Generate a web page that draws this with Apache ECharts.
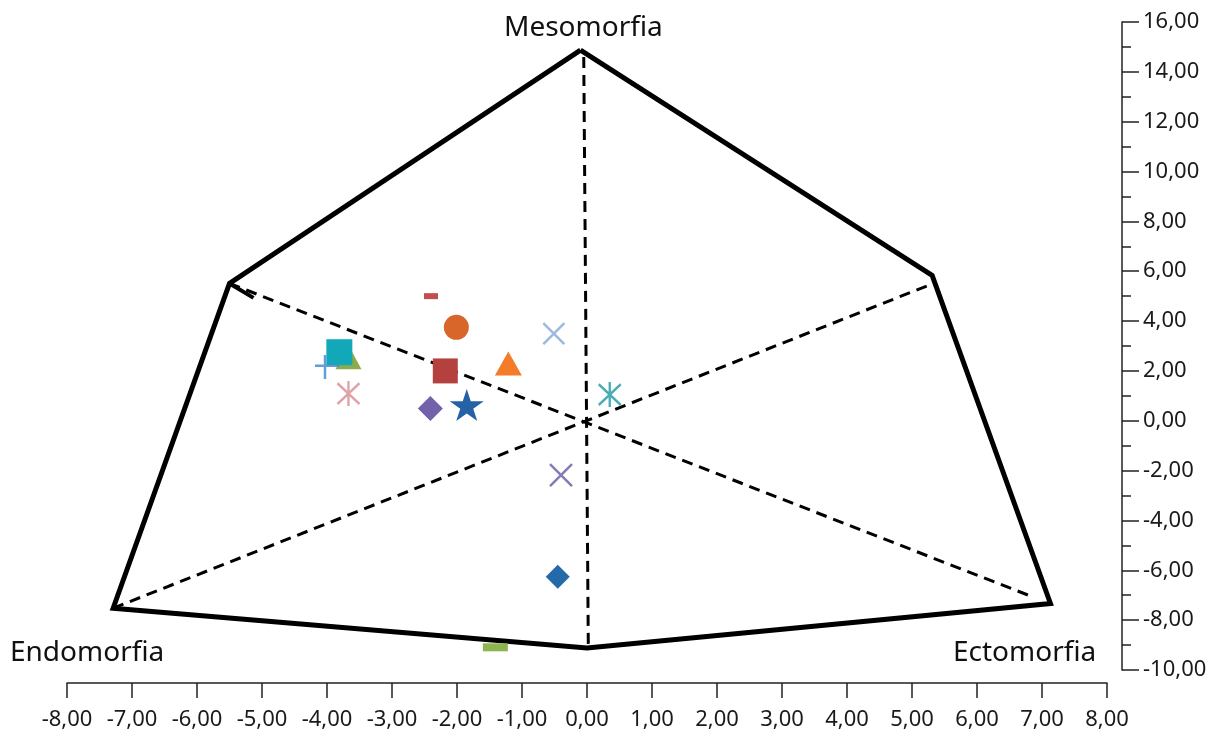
<!DOCTYPE html>
<html>
<head>
<meta charset="utf-8">
<script src="https://cdn.jsdelivr.net/npm/echarts@6/dist/echarts.min.js"></script>
<style>html,body{margin:0;padding:0;background:#fff}#c{width:1213px;height:741px}</style>
</head>
<body>
<div id="c"></div>
<script>
// Somatochart outline (hexagon-like) vertices
const outlineX = [-0.10, 5.31, 7.13, 0.00, -7.29, -5.50, -0.10];
const outlineY = [14.87, 5.83, -7.33, -9.12, -7.52, 5.51, 14.87];
// Dashed axes of the somatochart
const dashA_X = [-0.05, 0.02];   const dashA_Y = [14.60, -9.00];
const dashB_X = [-5.50, 6.85];   const dashB_Y = [5.51, -7.06];
const dashC_X = [-7.29, 5.25];   const dashC_Y = [-7.52, 5.43];
const stubX = [-5.50, -5.13];    const stubY = [5.51, 4.93];
// Somatopoints
const pointX = [-2.40, -2.01, -0.51, -3.67, -3.81, -4.00, -3.67, -2.18, -1.21, -2.41, -1.85, 0.35, -0.40, -0.45, -1.41];
const pointY = [5.00, 3.75, 3.50, 2.55, 2.75, 2.16, 1.09, 2.00, 2.30, 0.49, 0.63, 1.05, -2.18, -6.26, -9.09];
// Tick values
const xTicks = [-8, 8, 1];
const yTicks = [-10, 16, 2];
const cornerLabels = ['Mesomorfia', 'Endomorfia', 'Ectomorfia'];

const X = 'path://M0,0L20,20M20,0L0,20';
const AST = 'path://M0,2L20,22M20,2L0,22M10,0L10,24';
const PLUS = 'path://M0,10L24,10M10,0L10,22';
const STAR = 'path://M100,0L122.45,69.1L195.1,69.1L136.3,111.8L158.8,180.9L100,138.2L41.2,180.9L63.7,111.8L4.9,69.1L77.55,69.1Z';

const styles = [
  {symbol:'rect', size:[14,6], color:'#C0504D'},
  {symbol:'circle', size:25, color:'#D8652A'},
  {symbol:X, size:21, stroke:'#85A7D6', bw:2.5},
  {symbol:'triangle', size:[26,24], color:'#8FAA4A'},
  {symbol:'rect', size:26, color:'#11A9B9'},
  {symbol:PLUS, size:24, stroke:'#3D86CF', bw:2.5},
  {symbol:AST, size:[22,25], stroke:'#D48C90', bw:2.5},
  {symbol:'rect', size:25, color:'#B5413F'},
  {symbol:'triangle', size:[27,24], color:'#F47B2A'},
  {symbol:'diamond', size:[25,25], color:'#7361AC'},
  {symbol:STAR, size:[34,32], color:'#2561A6'},
  {symbol:AST, size:[22,25], stroke:'#1A97A0', bw:2.5},
  {symbol:X, size:22, stroke:'#6A5AA3', bw:2.5},
  {symbol:'diamond', size:[24,24], color:'#2469AA'},
  {symbol:'rect', size:[25,8], color:'#8DB552'}
];

const pts = pointX.map((x, i) => {
  const s = styles[i];
  const it = {value:[x, pointY[i]], symbol:s.symbol, symbolSize:s.size};
  if (s.stroke) it.itemStyle = {color:'rgba(0,0,0,0)', borderColor:s.stroke, borderWidth:s.bw};
  else it.itemStyle = {color:s.color, opacity:1};
  return it;
});

const zip = (a, b) => a.map((v, i) => [v, b[i]]);
const fmt = v => v.toFixed(2).replace('.', ',');
const font = 'Noto Sans';

const lineSeries = (xs, ys, w, dash) => ({
  type:'line', data:zip(xs, ys), symbol:'none', silent:true, z:2,
  lineStyle:{color:'#000', width:w, type:dash ? [11,7] : 'solid', cap:'butt', join:'miter'},
  animation:false
});

const chart = echarts.init(document.getElementById('c'), null, {renderer:'canvas'});
chart.setOption({
  animation:false,
  backgroundColor:'#fff',
  grid:{left:67, right:106, top:22, bottom:71},
  xAxis:{
    type:'value', min:xTicks[0], max:xTicks[1], interval:xTicks[2], offset:13,
    axisLine:{onZero:false, lineStyle:{color:'#222', width:1.5}},
    axisTick:{length:15, lineStyle:{color:'#222', width:1.5}},
    splitLine:{show:false},
    axisLabel:{formatter:fmt, margin:26, color:'#1a1a1a', fontSize:22, fontFamily:font}
  },
  yAxis:{
    type:'value', position:'right', min:yTicks[0], max:yTicks[1], interval:yTicks[2], offset:15,
    axisLine:{show:true, onZero:false, lineStyle:{color:'#222', width:1.5}},
    axisTick:{show:true, length:17, lineStyle:{color:'#222', width:1.5}},
    minorTick:{show:true, splitNumber:2, length:9, lineStyle:{color:'#222', width:1.5}},
    splitLine:{show:false},
    axisLabel:{formatter:fmt, margin:21, color:'#1a1a1a', fontSize:22, fontFamily:font}
  },
  graphic:[
    {type:'text', left:504, top:14, style:{text:cornerLabels[0], font:'28px "Noto Sans"', fill:'#111'}},
    {type:'text', left:10, top:639, style:{text:cornerLabels[1], font:'28px "Noto Sans"', fill:'#111'}},
    {type:'text', left:953, top:639, style:{text:cornerLabels[2], font:'28px "Noto Sans"', fill:'#111'}}
  ],
  series:[
    lineSeries(dashA_X, dashA_Y, 3, true),
    lineSeries(dashB_X, dashB_Y, 3, true),
    lineSeries(dashC_X, dashC_Y, 3, true),
    lineSeries(stubX, stubY, 4, false),
    lineSeries(outlineX, outlineY, 5, false),
    {type:'scatter', data:pts, z:5, animation:false}
  ]
});
</script>
</body>
</html>
